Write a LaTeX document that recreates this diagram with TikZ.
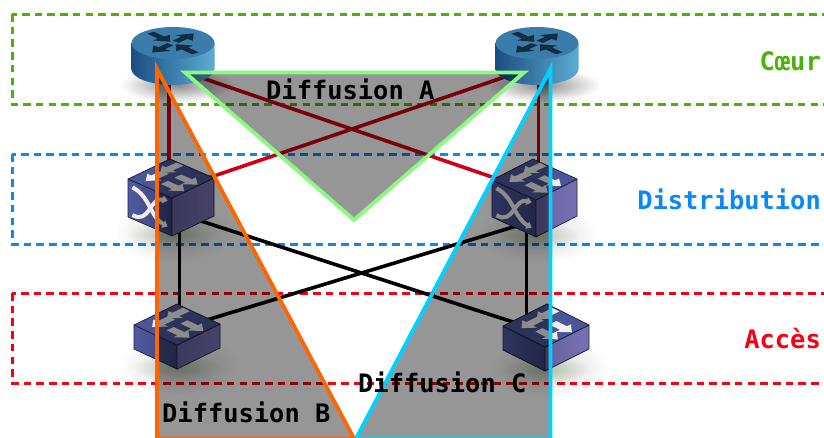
\documentclass[tikz,border=0pt]{standalone}
\usepackage{fontspec}
\setmonofont{DejaVu Sans Mono}
\usetikzlibrary{fadings,arrows.meta,calc}
\definecolor{bandgreen}{RGB}{76,178,8}
\definecolor{bandblue}{RGB}{10,136,245}
\definecolor{bandred}{RGB}{245,0,20}
\definecolor{linkred}{RGB}{205,0,20}
\definecolor{triA}{RGB}{140,250,130}
\definecolor{triB}{RGB}{255,102,0}
\definecolor{triC}{RGB}{0,210,255}
\definecolor{swtop}{RGB}{76,85,152}
\definecolor{swlefta}{RGB}{82,90,162}
\definecolor{swleftb}{RGB}{58,65,118}
\definecolor{swrighta}{RGB}{102,97,160}
\definecolor{swrightb}{RGB}{120,114,180}
\definecolor{swedge}{RGB}{30,32,60}
\definecolor{swarrow}{RGB}{238,238,238}
\definecolor{rtleft}{RGB}{28,78,128}
\definecolor{rtmid}{RGB}{50,120,165}
\definecolor{rtright}{RGB}{92,172,212}
\definecolor{rttop}{RGB}{58,125,170}
\definecolor{rtarrow}{RGB}{18,45,65}
\tikzfading[name=softedge,inner color=transparent!0,outer color=transparent!100]
\tikzset{
  x=1pt,y=-1pt,
  band/.style={line width=3pt,dash pattern=on 7.6pt off 5.1pt},
  redlink/.style={linkred,line width=3.6pt},
  blacklink/.style={black,line width=3.6pt},
  diffusion/.style={fill=black,fill opacity=.41,line width=3.8pt,line join=miter,miter limit=10},
  lbl/.style={font=\ttfamily\bfseries\fontsize{25.4}{28}\selectfont,inner sep=0pt},
  swface/.style={draw=swedge,line width=.7pt,line join=round},
}
% top-face arrow centred on the current origin, pointing along +x of the face
\newcommand{\facearrow}{\fill[swarrow] (-.2,-.08) -- (.05,-.08) -- (.05,-.17) -- (.25,0) -- (.05,.17) -- (.05,.08) -- (-.2,.08) -- cycle;}
% #1,#2 back vertex; #3,#4 vector to right; #5,#6 vector to left; #7 height; #8 1 = crossing symbol
\newcommand{\switchicon}[8]{%
  \fill[black,opacity=.16,path fading=softedge] (#1+.5*#3+.5*#5+3,#2+#4+#6+#7-3) ellipse [x radius=60,y radius=30];
  \fill[bandgreen!60!black,opacity=.22,path fading=softedge] (#1+.5*#3+.5*#5,#2+#4+#6+#7-1) ellipse [x radius=44,y radius=14];
  \begin{scope}[shift={(#1,#2)}]
    \shade[swface,left color=swlefta,right color=swleftb] (#5,#6) -- (#3+#5,#4+#6) -- (#3+#5,#4+#6+#7) -- (#5,#6+#7) -- cycle;
    \shade[swface,left color=swrighta,right color=swrightb] (#3+#5,#4+#6) -- (#3,#4) -- (#3,#4+#7) -- (#3+#5,#4+#6+#7) -- cycle;
    \fill[swtop] (0,0) -- (#3,#4) -- (#3+#5,#4+#6) -- (#5,#6) -- cycle;
    \draw[swface] (0,0) -- (#3,#4) -- (#3+#5,#4+#6) -- (#5,#6) -- cycle;
    \begin{scope}[x={(#3pt,-#4pt)},y={(#5pt,-#6pt)}]
      \begin{scope}[shift={(.24,.22)},xscale=-1]\facearrow\end{scope}
      \begin{scope}[shift={(.72,.36)}]\facearrow\end{scope}
      \begin{scope}[shift={(.27,.6)},xscale=-1]\facearrow\end{scope}
      \begin{scope}[shift={(.72,.68)}]\facearrow\end{scope}
    \end{scope}
    \ifnum#8=1
      \begin{scope}[shift={(#5,#6)},x={(#3pt,-#4pt)},y={(0pt,-#7pt)}]
        \draw[swarrow,line width=4pt,-{Triangle[width=8pt,length=5pt]}] (.1,.17) .. controls (.5,.2) and (.5,.75) .. (.9,.8);
        \draw[swarrow,line width=4pt,-{Triangle[width=8pt,length=5pt]}] (.1,.9) .. controls (.5,.95) and (.5,.2) .. (.9,.12);
      \end{scope}
    \fi
  \end{scope}
}
% #1,#2 centre of the top ellipse
\newcommand{\routericon}[2]{%
  \fill[black,opacity=.45,path fading=softedge] (#1+5,#2+42) ellipse [x radius=58,y radius=17];
  \begin{scope}[shift={(#1,#2)}]
    \shade[left color=rtleft,middle color=rtmid,right color=rtright] (-41.5,0) -- (-41.5,26) .. controls (-41.5,34.8) and (-22.9,42) .. (0,42) .. controls (22.9,42) and (41.5,34.8) .. (41.5,26) -- (41.5,0) -- cycle;
    \fill[rttop] (0,0) ellipse [x radius=41.5,y radius=16];
    \begin{scope}[xscale=41.5,yscale=16]
      \foreach \a in {50,230}{\fill[rtarrow,rotate=\a] (.1,-.1) -- (.42,-.1) -- (.42,-.27) -- (.78,0) -- (.42,.27) -- (.42,.1) -- (.1,.1) -- cycle;}
      \foreach \a in {130,310}{\fill[rtarrow,rotate=\a] (.84,-.1) -- (.44,-.1) -- (.44,-.27) -- (.1,0) -- (.44,.27) -- (.44,.1) -- (.84,.1) -- cycle;}
    \end{scope}
  \end{scope}
}
\begin{document}
\begin{tikzpicture}
\useasboundingbox (0,0) rectangle (824,437);
\clip (0,0) rectangle (824,437);
\fill[white] (0,0) rectangle (824,437);
% tiers
\draw[band,bandgreen] (12,14) rectangle (832,104.5);
\draw[band,bandblue] (12,154) rectangle (832,244);
\draw[band,bandred] (12,293) rectangle (832,383);
% device positions
\coordinate (r1) at (173,68);
\coordinate (r2) at (537,66);
\coordinate (d1) at (170,191);
\coordinate (d2) at (533,191);
\coordinate (a1) at (177,329);
\coordinate (a2) at (547,333);
\coordinate (d1x) at (170,211);
\coordinate (d2x) at (533,221);
\coordinate (r1v) at (169,70);
\coordinate (d1t) at (169,175);
\coordinate (r2v) at (538.5,70);
\coordinate (d2t) at (538.5,175);
\coordinate (d1b) at (179.5,225);
\coordinate (a1t) at (179.5,320);
\coordinate (d2b) at (526.5,225);
\coordinate (a2t) at (526.5,320);
% links
\draw[redlink] (r1v) -- (d1t);
\draw[redlink] (r2v) -- (d2t);
\draw[redlink] (r1) -- (d2);
\draw[redlink] (r2) -- (d1);
\draw[blacklink] (d1b) -- (a1t);
\draw[blacklink] (d2b) -- (a2t);
\draw[blacklink] (d1x) -- (a2);
\draw[blacklink] (a1) -- (d2x);
% devices
\routericon{173}{43}
\routericon{537}{43}
\switchicon{170}{159}{44}{19}{-42}{20}{38}{1}
\switchicon{533}{159}{44}{20}{-41}{21}{37}{1}
\switchicon{177}{304}{43}{20}{-43}{21}{24}{0}
\switchicon{547}{304}{42}{21}{-44}{22}{24}{0}
% diffusion areas
\draw[diffusion,draw=triA] (185,72.5) -- (524,72.5) -- (354,220) -- cycle;
\draw[diffusion,draw=triB] (157,69) -- (157,438.5) -- (354,438.5) -- cycle;
\draw[diffusion,draw=triC] (550.5,69) -- (550.5,438.5) -- (356,438.5) -- cycle;
% labels
\node[lbl,anchor=base west] (la) at (266,99) {Diffusion A};
\node[lbl,anchor=base west] (lb) at (162,422) {Diffusion B};
\node[lbl,anchor=base west] (lc) at (358,392) {Diffusion C};
\node[lbl,anchor=base east,text=bandgreen] (tc) at (821,70) {Cœur};
\node[lbl,anchor=base east,text=bandblue] (td) at (821,209) {Distribution};
\node[lbl,anchor=base east,text=bandred] (tk) at (821,348) {Accès};
\end{tikzpicture}
\end{document}
